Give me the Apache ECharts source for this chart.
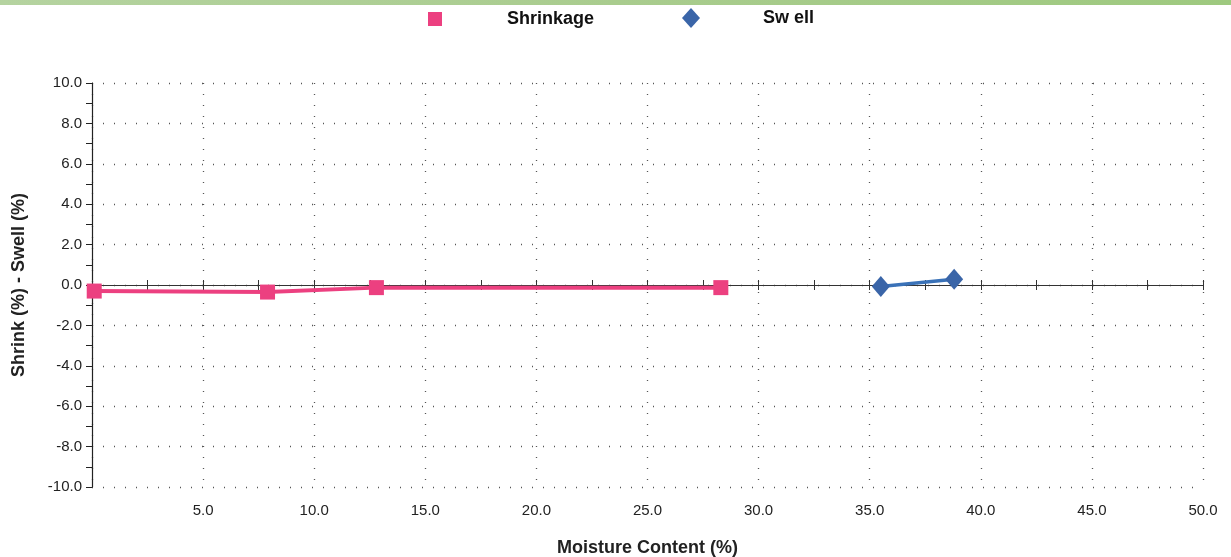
<!DOCTYPE html>
<html><head><meta charset="utf-8">
<script src="https://cdn.jsdelivr.net/npm/echarts@6/dist/echarts.min.js"></script>
<style>html,body{margin:0;padding:0;background:#fff}#c{width:1231px;height:557px}</style>
</head><body><div id="c"></div>
<script>
var shrinkX = [0.1, 7.9, 12.8, 28.3];
var shrinkY = [-0.3, -0.35, -0.13, -0.13];
var swellX = [35.5, 38.8];
var swellY = [-0.08, 0.28];
var xTickLabels = ['', '5.0', '10.0', '15.0', '20.0', '25.0', '30.0', '35.0', '40.0', '45.0', '50.0'];
var yTickLabels = ['-10.0','-8.0','-6.0','-4.0','-2.0','0.0','2.0','4.0','6.0','8.0','10.0'];

function pairs(xs, ys){ return xs.map(function(x,i){return [x, ys[i]];}); }
var font = 'Liberation Sans, Arial, sans-serif';
var chart = echarts.init(document.getElementById('c'));
chart.setOption({
  animation:false,
  textStyle:{fontFamily:font},
  graphic:[{type:'rect', left:0, top:0, shape:{width:1231, height:5},
    style:{fill:new echarts.graphic.LinearGradient(0,0,1,0,[{offset:0,color:'#b5d3a0'},{offset:0.5,color:'#a9cc8e'},{offset:1,color:'#9ec97f'}])}}],
  legend:[
    {left:423, top:5, data:['Shrinkage'], itemWidth:14, itemHeight:14, icon:'rect',
     textStyle:{fontFamily:font, fontSize:18, fontWeight:'bold', color:'#111', padding:[0,0,0,60]}},
    {left:677, top:3, data:['Sw ell'], itemWidth:18, itemHeight:20, icon:'diamond',
     textStyle:{fontFamily:font, fontSize:18, fontWeight:'bold', color:'#111', padding:[0,0,0,58]}}
  ],
  grid:{left:92, right:28, top:83, bottom:70, outerBoundsMode:'none', containLabel:false},
  xAxis:[
    {type:'value', min:0, max:50, interval:5, position:'bottom',
     axisLine:{show:false, onZero:false}, axisTick:{show:false},
     axisLabel:{fontFamily:font, fontSize:15, color:'#222', margin:16,
       formatter:function(v){ return xTickLabels[Math.round(v/5)]; }},
     splitLine:{show:true, lineStyle:{type:[1,10], color:'#555', width:1.3}},
     name:'Moisture Content (%)', nameLocation:'middle', nameGap:52,
     nameTextStyle:{fontFamily:font, fontSize:18, fontWeight:'bold', color:'#222'}},
    {type:'value', min:0, max:50, interval:2.5, position:'bottom',
     axisLine:{show:true, onZero:true, onZeroAxisIndex:0, lineStyle:{color:'#333', width:1}},
     axisTick:{show:true, inside:true, length:5, lineStyle:{color:'#333'}},
     axisLabel:{show:false}, splitLine:{show:false}},
    {type:'value', min:0, max:50, interval:2.5, position:'bottom',
     axisLine:{show:true, onZero:true, onZeroAxisIndex:1, lineStyle:{color:'#333', width:1}},
     axisTick:{show:true, inside:false, length:5, lineStyle:{color:'#333'}},
     axisLabel:{show:false}, splitLine:{show:false}}
  ],
  yAxis:[
   {type:'value', min:-10, max:10, interval:2,
    axisLine:{show:true, lineStyle:{color:'#222', width:1.2}},
    axisTick:{show:true, length:6, lineStyle:{color:'#222'}},
    minorTick:{show:true, splitNumber:2, length:6, lineStyle:{color:'#222'}},
    axisLabel:{fontFamily:font, fontSize:15, color:'#222', margin:10,
      formatter:function(v){ return yTickLabels[Math.round((v+10)/2)]; }},
    splitLine:{show:true, lineStyle:{type:[1,10], color:'#555', width:1.3}},
    name:'Shrink (%) - Swell (%)', nameLocation:'middle', nameGap:64, nameRotate:90,
    nameTextStyle:{fontFamily:font, fontSize:18, fontWeight:'bold', color:'#222'}},
   {type:'value', min:-10, max:10, interval:2, position:'left',
    axisLine:{show:false}, axisTick:{show:false}, axisLabel:{show:false}, splitLine:{show:false}}
  ],
  series:[
    {name:'Shrinkage', type:'line', data:pairs(shrinkX, shrinkY), xAxisIndex:0, yAxisIndex:0,
     symbol:'rect', symbolSize:15, itemStyle:{color:'#ec4080'},
     lineStyle:{color:'#ec4080', width:4}, z:5},
    {name:'Sw ell', type:'line', data:pairs(swellX, swellY), xAxisIndex:0, yAxisIndex:0,
     symbol:'diamond', symbolSize:[18,21], itemStyle:{color:'#3a65a8'},
     lineStyle:{color:'#3a72b8', width:3.5}, z:5}
  ]
});
</script></body></html>
